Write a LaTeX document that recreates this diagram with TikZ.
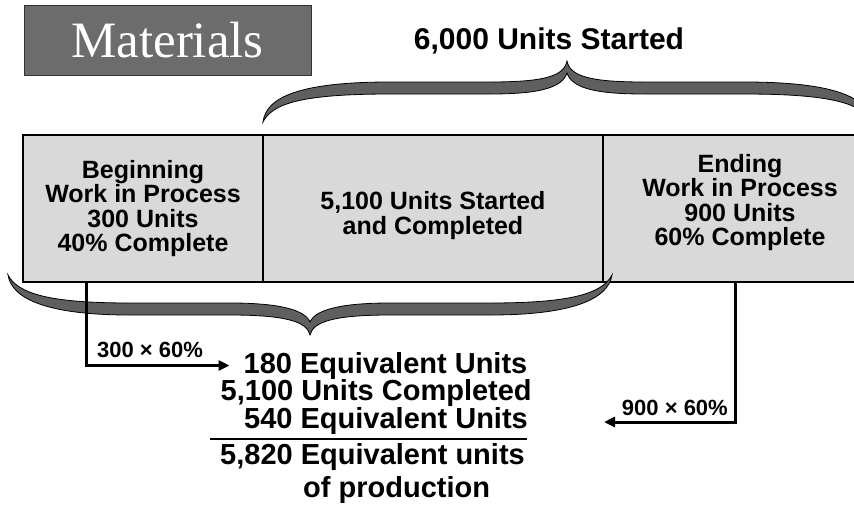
\documentclass[tikz,border=0pt]{standalone}
\usepackage{fontspec}
\setmainfont{Liberation Sans}
\newfontfamily\titleserif{Liberation Serif}
\usetikzlibrary{arrows.meta,positioning,calc}
\definecolor{cellgray}{RGB}{217,217,217}
\definecolor{bracegray}{RGB}{95,95,95}
\definecolor{titlegray}{RGB}{108,108,108}
\tikzset{
  cell/.style={draw=black, line width=2pt, fill=cellgray, minimum height=147pt, outer sep=0pt, inner sep=0pt},
  celltext/.style={font=\fontsize{25}{24.5}\selectfont\bfseries, align=center, inner sep=0pt},
  sumline/.style={font=\fontsize{29}{29}\selectfont\bfseries, anchor=base west, inner sep=0pt},
  factor/.style={font=\fontsize{22}{22}\selectfont\bfseries, inner sep=0pt},
  flow/.style={line width=3pt, -{Triangle[length=11pt,width=10pt]}},
  brace/.style={fill=bracegray, draw=black, line width=0.8pt}
}

\begin{document}
\begin{tikzpicture}[x=1pt,y=-1pt]
    \useasboundingbox (0,0) rectangle (854,509);
    \clip (0,0) rectangle (854,509);
    % heading
    \node[draw=black!80, line width=1pt, fill=titlegray, minimum width=287pt, minimum height=70pt, inner sep=0pt,
          text=white, font=\titleserif\fontsize{51}{51}\selectfont] (title) at (167.5,40) {Materials};
    \node[font=\fontsize{30}{30}\selectfont\bfseries, anchor=base, inner sep=0pt] (started) at (549,49) {6,000 Units Started};
    % the three groups of units
    \node[cell, minimum width=240pt,
          label={[celltext]center:{Beginning\\Work in Process\\300 Units\\40\% Complete}}] (bwip) at (143,208.5) {};
    \node[cell, minimum width=340pt, right=0pt of bwip,
          label={[celltext, yshift=-7pt]center:{5,100 Units Started\\and Completed}}] (sac) {};
    \node[cell, minimum width=274pt, right=0pt of sac,
          label={[celltext, yshift=6pt]center:{Ending\\Work in Process\\900 Units\\60\% Complete}}] (ewip) {};
    % braces
    \filldraw[brace] (263,122) .. controls (266,97) and (300,82) .. (390,82) -- (490,82) .. controls (545,82) and (564,76) .. (567,61)
        .. controls (570,76) and (589,82) .. (644,82) -- (744,82) .. controls (834,82) and (868,97) .. (871,122)
        .. controls (862,104) and (834,94) .. (744,94) -- (644,94) .. controls (595,94) and (572,88) .. (567,73)
        .. controls (562,88) and (539,94) .. (490,94) -- (390,94) .. controls (300,94) and (272,104) .. (263,122) -- cycle;
    \filldraw[brace] (8,275) .. controls (12,300) and (50,315) .. (130,315) -- (230,315) .. controls (287,315) and (307,322) .. (310,335)
        .. controls (313,322) and (333,315) .. (390,315) -- (490,315) .. controls (570,315) and (608,300) .. (612,275)
        .. controls (602,294) and (570,303) .. (490,303) -- (390,303) .. controls (340,303) and (315,310) .. (310,322)
        .. controls (305,310) and (280,303) .. (230,303) -- (130,303) .. controls (50,303) and (18,294) .. (8,275) -- cycle;
    % equivalent units
    \node[sumline] (eq180) at (243.5,373) {180 Equivalent Units};
    \node[sumline] (uc5100) at (220.5,400.5) {5,100 Units Completed};
    \node[sumline] (eq540) at (244,428) {540 Equivalent Units};
    \node[sumline] (eq5820) at (220,464) {5,820 Equivalent units};
    \node[sumline] (prod) at (303,497) {of production};
    \draw[line width=2pt] ([xshift=-34pt,yshift=-10.5pt]eq540.base west) -- ([xshift=-1pt,yshift=-10.5pt]eq540.base east);
    % arrows
    \coordinate (ewipend) at (604,422);
    \draw[flow] ([xshift=63pt]bwip.south west) |- ([xshift=-14pt]eq180.west);
    \draw[flow] ([xshift=132pt]ewip.south west) |- (ewipend);
    \node[factor, anchor=base west] (f300) at (97,357) {300 × 60\%};
    \node[factor, anchor=base east] (f900) at (728,415) {900 × 60\%};
\end{tikzpicture}
\end{document}
